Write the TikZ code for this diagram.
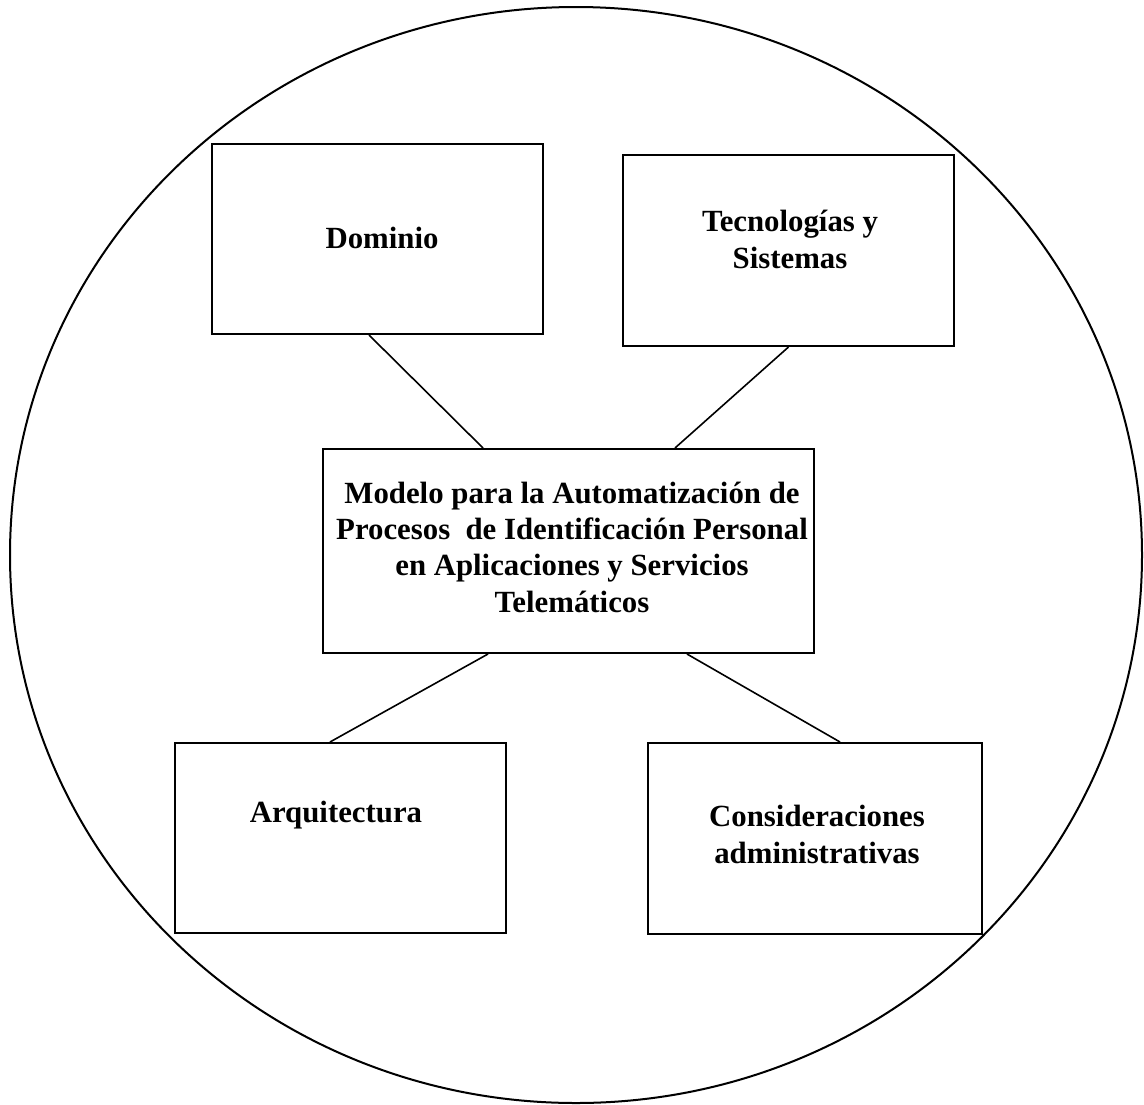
\documentclass[tikz,border=0pt]{standalone}
\usepackage{fontspec}
\setmainfont{Liberation Serif}
\usetikzlibrary{shapes.geometric}
\begin{document}
\begin{tikzpicture}[x=1pt, y=-1pt,
  boxline/.style={line width=2pt},
  topicbox/.style={draw, boxline, rectangle, inner sep=0pt, minimum width=331pt, minimum height=190pt},
  label/.style={font=\bfseries\fontsize{30.8}{36.3}\selectfont, align=center, inner sep=0pt, anchor=base},
  link/.style={line width=1.6pt}]
  \useasboundingbox (0,0) rectangle (1144,1104);

  % enclosing ellipse
  \node (frame) [draw, ellipse, line width=2pt, inner sep=0pt,
        minimum width=1132pt, minimum height=1096pt] at (576,555) {};

  % boxes
  \node (dom) [topicbox] at (377.5,239) {};
  \node (tec) [topicbox, minimum height=191pt] at (788.5,250.5) {};
  \node (mod) [topicbox, minimum width=491pt, minimum height=204pt] at (568.5,551) {};
  \node (arq) [topicbox] at (340.5,838) {};
  \node (con) [topicbox, minimum width=334pt, minimum height=191pt] at (815,838.5) {};

  % box texts (anchored on the baseline of the last line)
  \node (domtxt) [label] at (382,248) {Dominio};
  \node (tectxt) [label] at (790,268) {Tecnologías y\\Sistemas};
  \node (modtxt) [label] at (572,612) {Modelo para la Automatización de\\Procesos\ \ de Identificación Personal\\en Aplicaciones y Servicios\\Telemáticos};
  \node (arqtxt) [label] at (336,822) {Arquitectura};
  \node (contxt) [label] at (817,863) {Consideraciones\\administrativas};

  % connectors
  \draw[link] ([xshift=-8.5pt]dom.south) -- ([xshift=-85.5pt]mod.north);
  \draw[link] (tec.south) -- ([xshift=106.5pt]mod.north);
  \draw[link] ([xshift=-80.5pt]mod.south) -- ([xshift=-10.5pt]arq.north);
  \draw[link] ([xshift=118.5pt]mod.south) -- ([xshift=25pt]con.north);
\end{tikzpicture}
\end{document}
